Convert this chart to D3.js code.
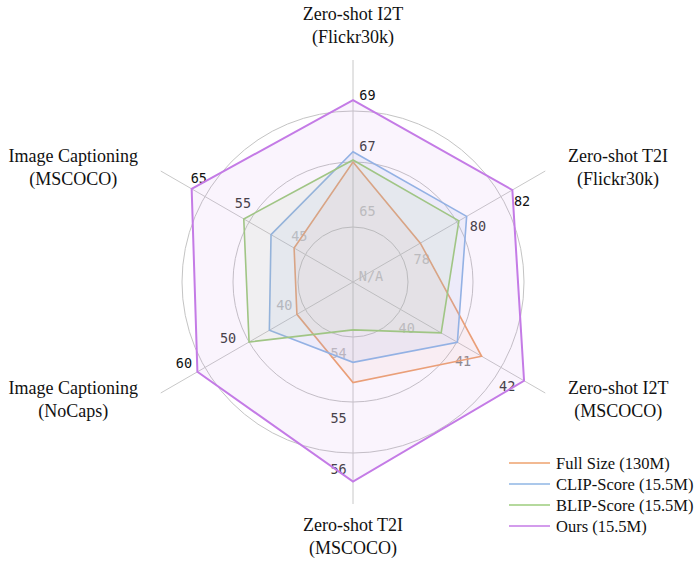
<!DOCTYPE html>
<html>
<head>
<meta charset="utf-8">
<script src="https://cdn.jsdelivr.net/npm/d3@7"></script>
<style>
  html, body { margin: 0; padding: 0; background: #fff; }
  svg { display: block; }
</style>
</head>
<body>
<svg id="chart" width="698" height="561"></svg>
<script>
// Benchmarks, clockwise from the top
const axisLabels = [
  ["Zero-shot I2T", "(Flickr30k)"],
  ["Zero-shot T2I", "(Flickr30k)"],
  ["Zero-shot I2T", "(MSCOCO)"],
  ["Zero-shot T2I", "(MSCOCO)"],
  ["Image Captioning", "(NoCaps)"],
  ["Image Captioning", "(MSCOCO)"]
];

// Tick values for each benchmark (inner, middle, outer ring)
const axisTicks = [
  [65, 67, 69],
  [78, 80, 82],
  [40, 41, 42],
  [54, 55, 56],
  [40, 50, 60],
  [45, 55, 65]
];

const seriesNames = ["Full Size (130M)", "CLIP-Score (15.5M)", "BLIP-Score (15.5M)", "Ours (15.5M)"];
const fullSize  = [67.0, 78.7, 41.56, 54.7, 41.5, 47.0];
const clipScore = [67.4, 80.44, 41.01, 54.39, 46.4, 51.1];
const blipScore = [67.08, 80.09, 40.72, 53.89, 50.0, 56.2];
const ours      = [69.43, 82.51, 42.52, 56.56, 61.7, 68.0];

const seriesValues = [fullSize, clipScore, blipScore, ours];
const seriesColors = ["#eea26e", "#8fb6e4", "#9dcc7c", "#c47be6"];
const seriesFill   = [0.08, 0.12, 0.1, 0.085];
const seriesWidths = [1.6, 1.6, 1.6, 2];

const svg = d3.select("#chart");
const cx = 353, cy = 282;
const ringRadii = [55, 120, 171];
const spokeLength = 222;
const n = axisLabels.length;
const angle = i => i * 2 * Math.PI / n;

// One radial scale per benchmark, pinned to the three rings
const scales = axisTicks.map(t => d3.scaleLinear().domain(t).range(ringRadii));

const point = (i, r) => [cx + r * Math.sin(angle(i)), cy - r * Math.cos(angle(i))];

const g = svg.append("g");

// grid rings
g.selectAll("circle.ring").data(ringRadii).join("circle")
  .attr("class", "ring")
  .attr("cx", cx).attr("cy", cy).attr("r", d => d)
  .attr("fill", "none").attr("stroke", "#c4c4c4").attr("stroke-width", 1);

// spokes
g.selectAll("line.spoke").data(axisLabels).join("line")
  .attr("class", "spoke")
  .attr("x1", cx).attr("y1", cy)
  .attr("x2", (d, i) => point(i, spokeLength)[0])
  .attr("y2", (d, i) => point(i, spokeLength)[1])
  .attr("stroke", "#c8c8c8").attr("stroke-width", 1);

// series polygons in pixel space
const polys = seriesValues.map(vals => vals.map((v, i) => point(i, scales[i](v))));

// tick labels sit just off each ring, rotated a little clockwise from the spoke,
// shaded by how many filled areas lie over them
const labelShade = ["#111111", "#3c3c3c", "#8a8a8a", "#bdbdbd", "#c4c4c4"];
const tickFont = 13.5, halfW = 0.602 * tickFont, halfH = 5;
const tilt = 42 * Math.PI / 180;
const tickG = g.append("g");
axisTicks.forEach((ticks, i) => {
  const a = angle(i);
  const ux = Math.sin(a), uy = -Math.cos(a);     // outward
  const vx = Math.cos(a), vy = Math.sin(a);      // clockwise
  const dx = Math.cos(tilt) * ux + Math.sin(tilt) * vx;
  const dy = Math.cos(tilt) * uy + Math.sin(tilt) * vy;
  const gap = 12.5 + Math.abs(dx) * halfW + Math.abs(dy) * halfH;
  ticks.forEach(t => {
    const [px, py] = point(i, scales[i](t));
    const x = px + gap * dx;
    const y = py + gap * dy;
    const probe = [x - 3 * ux, y - 3 * uy];
    const cover = polys.filter(p => d3.polygonContains(p, probe)).length;
    tickG.append("text")
      .attr("x", x).attr("y", y)
      .attr("text-anchor", "middle").attr("dominant-baseline", "central")
      .attr("font-family", "DejaVu Sans Mono")
      .attr("font-size", tickFont)
      .attr("fill", labelShade[cover])
      .text(t);
  });
});
tickG.append("text")
  .attr("x", cx + 18).attr("y", cy - 6)
  .attr("text-anchor", "middle").attr("dominant-baseline", "central")
  .attr("font-family", "DejaVu Sans Mono").attr("font-size", tickFont)
  .attr("fill", "#c4c4c4").text("N/A");

// filled series areas
const radial = d3.lineRadial()
  .angle((d, i) => angle(i))
  .radius((d, i) => scales[i](d))
  .curve(d3.curveLinearClosed);

const areas = g.append("g").attr("transform", `translate(${cx},${cy})`);
seriesValues.forEach((vals, s) => {
  areas.append("path")
    .attr("d", radial(vals))
    .attr("fill", seriesColors[s]).attr("fill-opacity", seriesFill[s])
    .attr("stroke", seriesColors[s]).attr("stroke-width", seriesWidths[s])
    .attr("stroke-linejoin", "miter");
});

// benchmark names
const labelR = 232;
axisLabels.forEach((lines, i) => {
  const a = angle(i);
  const s = Math.sin(a), c = Math.cos(a);
  const t = g.append("text")
    .attr("font-family", "Liberation Serif, Times New Roman, serif")
    .attr("font-size", 18).attr("fill", "#111")
    .attr("text-anchor", "middle");
  lines.forEach((ln, k) => {
    t.append("tspan").attr("x", 0).attr("dy", k === 0 ? 0 : 22.5).text(ln);
  });
  const bb = t.node().getBBox();
  let bx, byc;
  if (Math.abs(s) < 0.1) {
    bx = cx;
    byc = c > 0 ? cy - 256 : cy + 255;
  } else {
    const [px, py] = point(i, labelR);
    bx = px + Math.sign(s) * (bb.width / 2 + 14);
    byc = py + 2;
  }
  const dy = byc - (bb.y + bb.height / 2);
  t.attr("transform", `translate(${bx},${dy})`);
});

// legend
const legend = g.append("g");
seriesNames.forEach((name, s) => {
  const y = 463 + s * 21;
  legend.append("line")
    .attr("x1", 509).attr("x2", 550).attr("y1", y).attr("y2", y)
    .attr("stroke", seriesColors[s]).attr("stroke-width", 1.6);
  legend.append("text")
    .attr("x", 556).attr("y", y)
    .attr("dominant-baseline", "central")
    .attr("font-family", "Liberation Serif, Times New Roman, serif")
    .attr("font-size", 16.5).attr("fill", "#111")
    .text(name);
});
</script>
</body>
</html>
